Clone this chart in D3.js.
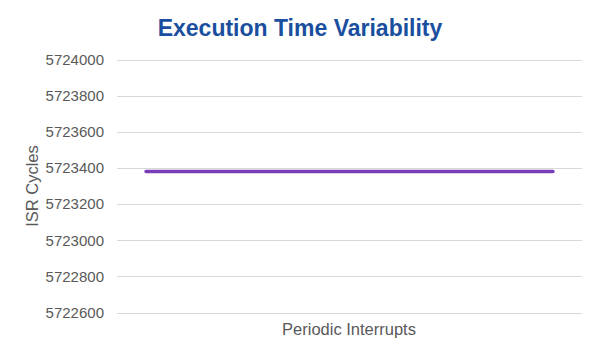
<!DOCTYPE html>
<html>
<head>
<meta charset="utf-8">
<script src="https://cdn.jsdelivr.net/npm/d3@7"></script>
<style>
  html, body { margin: 0; padding: 0; background: #fff; }
  svg { display: block; font-family: "Liberation Sans", Arial, sans-serif; }
</style>
</head>
<body>
<svg id="chart" width="600" height="360"></svg>
<script>
const title = "Execution Time Variability";
const xLabel = "Periodic Interrupts";
const yLabel = "ISR Cycles";
const interrupts = [1, 2, 3, 4, 5, 6, 7, 8];
const isrCycles = [5723380, 5723380, 5723380, 5723380, 5723380, 5723380, 5723380, 5723380];
const yTicks = [5722600, 5722800, 5723000, 5723200, 5723400, 5723600, 5723800, 5724000];

const svg = d3.select("#chart");
const margin = { left: 117, right: 18, top: 59.5, bottom: 47.5 };
const W = 600, H = 360;

const x = d3.scalePoint().domain(interrupts).range([margin.left, W - margin.right]).padding(0.5);
const y = d3.scaleLinear().domain([5722600, 5724000]).range([H - margin.bottom, margin.top]);

// gridlines
svg.append("g")
  .selectAll("line")
  .data(yTicks)
  .join("line")
  .attr("x1", margin.left)
  .attr("x2", W - margin.right)
  .attr("y1", d => Math.round(y(d)) + 0.5)
  .attr("y2", d => Math.round(y(d)) + 0.5)
  .attr("stroke", "#d9d9d9")
  .attr("stroke-width", 1);

// y axis labels
const yAxis = d3.axisLeft(y).tickValues(yTicks).tickSize(0).tickPadding(13).tickFormat(d3.format("d"));
const gy = svg.append("g").attr("transform", `translate(${margin.left},0)`).call(yAxis);
gy.select(".domain").remove();
gy.selectAll("text")
  .attr("fill", "#595959")
  .style("font-size", "15px")
  .style("font-family", "'Liberation Sans', Arial, sans-serif");

// line
const line = d3.line().x(d => x(d[0])).y(d => y(d[1]));
svg.append("path")
  .datum(interrupts.map((d, i) => [d, isrCycles[i]]))
  .attr("d", line)
  .attr("fill", "none")
  .attr("stroke", "#7a3db8")
  .attr("stroke-width", 3.5)
  .attr("stroke-linecap", "round");

// title
svg.append("text")
  .attr("x", 300)
  .attr("y", 36)
  .attr("text-anchor", "middle")
  .attr("fill", "#1a4f9f")
  .style("font-size", "23px")
  .style("font-weight", "bold")
  .text(title);

// x label
svg.append("text")
  .attr("x", 349)
  .attr("y", 335)
  .attr("text-anchor", "middle")
  .attr("fill", "#595959")
  .style("font-size", "16.5px")
  .text(xLabel);

// y label
svg.append("text")
  .attr("transform", "translate(38,186) rotate(-90)")
  .attr("text-anchor", "middle")
  .attr("fill", "#595959")
  .style("font-size", "16.5px")
  .text(yLabel);
</script>
</body>
</html>
